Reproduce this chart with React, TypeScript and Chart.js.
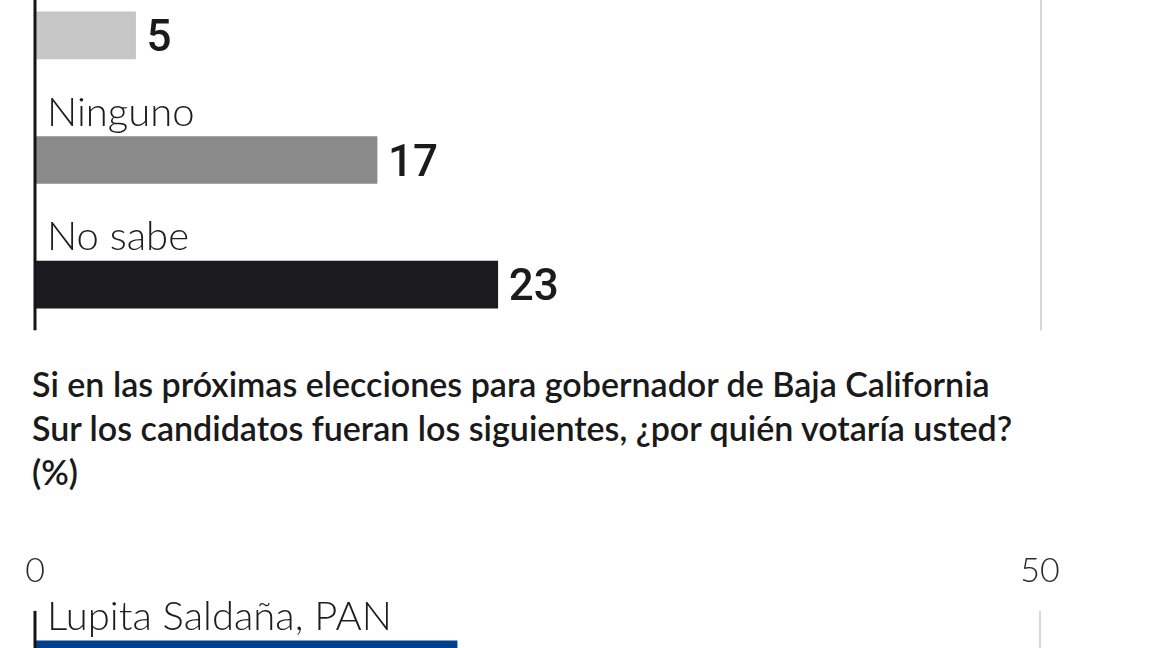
import React, { useEffect, useRef } from 'react';
import { Chart, registerables } from 'chart.js';

Chart.register(...registerables);

// primera gráfica (cortada arriba; la etiqueta de la primera barra no se ve)
const topCategories = ['', 'Ninguno', 'No sabe'];
const topValues = [5, 17, 23];
const topColors = ['#c6c6c6', '#8a8a8a', '#1b1a1f'];

// segunda gráfica (cortada abajo)
const bottomCategories = ['Lupita Saldaña, PAN'];
const bottomValues = [21];
const bottomColors = ['#00408f'];

const scaleMin = 0;
const scaleMax = 50;

const questionLines = [
  'Si en las próximas elecciones para gobernador de Baja California',
  'Sur los candidatos fueran los siguientes, ¿por quién votaría usted?',
  '(%)',
];

const LABEL_FONT = '300 40px Lato';
const VALUE_SIZE = 44;
const VALUE_FONT = `500 ${VALUE_SIZE}px Roboto, sans-serif`;

// dibuja eje, línea de 50, etiquetas y valores
const barDecor = {
  id: 'barDecor',
  beforeDatasetsDraw(chart: any) {
    const { ctx } = chart;
    const meta = chart.getDatasetMeta(0);
    const x = chart.scales.x;
    const first = meta.data[0];
    const last = meta.data[meta.data.length - 1];
    const top = first.y - first.height / 2 - 30;
    const bottom = last.y + last.height / 2 + 22;
    ctx.save();
    ctx.strokeStyle = '#d6d6d6';
    ctx.lineWidth = 2;
    ctx.beginPath();
    ctx.moveTo(x.getPixelForValue(scaleMax), top);
    ctx.lineTo(x.getPixelForValue(scaleMax), bottom);
    ctx.stroke();
    ctx.restore();
  },
  afterDatasetsDraw(chart: any) {
    const { ctx } = chart;
    const meta = chart.getDatasetMeta(0);
    const x = chart.scales.x;
    const x0 = x.getPixelForValue(scaleMin);
    const first = meta.data[0];
    const last = meta.data[meta.data.length - 1];
    const top = first.y - first.height / 2 - 30;
    const bottom = last.y + last.height / 2 + 22;
    ctx.save();
    ctx.strokeStyle = '#151515';
    ctx.lineWidth = 3;
    ctx.beginPath();
    ctx.moveTo(x0, top);
    ctx.lineTo(x0, bottom);
    ctx.stroke();

    const labels = chart.data.labels as string[];
    const values = chart.data.datasets[0].data as number[];
    meta.data.forEach((bar: any, i: number) => {
      const barTop = bar.y - bar.height / 2;
      ctx.fillStyle = '#1d1d1d';
      ctx.font = LABEL_FONT;
      ctx.textAlign = 'left';
      ctx.textBaseline = 'alphabetic';
      if (labels[i]) ctx.fillText(labels[i], x0 + 12, barTop - 11);

      ctx.font = VALUE_FONT;
      ctx.fillStyle = '#1b1b1b';
      ctx.fillText(String(values[i]), bar.x + 11, bar.y + VALUE_SIZE * 0.355);
    });
    ctx.restore();
  },
};

const makeOptions = (showTicks: boolean, padding: any) => ({
  indexAxis: 'y' as const,
  responsive: true,
  maintainAspectRatio: false,
  animation: false as const,
  layout: { padding },
  plugins: {
    legend: { display: false },
    tooltip: { enabled: false },
  },
  scales: {
    x: {
      display: showTicks,
      position: 'top' as const,
      min: scaleMin,
      max: scaleMax,
      grid: { display: false, drawTicks: false },
      border: { display: false },
      ticks: {
        stepSize: scaleMax - scaleMin,
        padding: 22,
        color: '#2a2a2a',
        font: { family: 'Lato', weight: '300', size: 34 },
      },
    },
    y: {
      display: false,
    },
  },
});

const BarBlock: React.FC<{
  labels: string[];
  values: number[];
  colors: string[];
  showTicks: boolean;
  padding: any;
}> = ({ labels, values, colors, showTicks, padding }) => {
  const chartRef = useRef<HTMLCanvasElement>(null);
  const chartInstance = useRef<Chart | null>(null);

  useEffect(() => {
    if (!chartRef.current) return;
    if (chartInstance.current) chartInstance.current.destroy();
    chartInstance.current = new Chart(chartRef.current, {
      type: 'bar',
      data: {
        labels,
        datasets: [
          {
            data: values,
            backgroundColor: colors,
            barThickness: 47,
            borderWidth: 0,
          },
        ],
      },
      options: makeOptions(showTicks, padding) as any,
      plugins: [barDecor],
    });
    return () => {
      if (chartInstance.current) {
        chartInstance.current.destroy();
        chartInstance.current = null;
      }
    };
  }, [labels, values, colors, showTicks, padding]);

  return <canvas ref={chartRef}></canvas>;
};

const topPadding = { top: 33, left: 35, right: 111, bottom: 0 };
const bottomPadding = { top: 0, left: 35, right: 112, bottom: 0 };

export default function App() {
  return (
    <div
      style={{
        position: 'fixed',
        left: 0,
        top: 0,
        width: 1152,
        height: 648,
        overflow: 'hidden',
        background: '#ffffff',
      }}
    >
      <div style={{ position: 'absolute', left: 0, top: -60, width: 1152, height: 407 }}>
        <BarBlock
          labels={topCategories}
          values={topValues}
          colors={topColors}
          showTicks={false}
          padding={topPadding}
        />
      </div>

      <div
        style={{
          position: 'absolute',
          left: 32,
          top: 362,
          fontFamily: 'Lato, sans-serif',
          fontWeight: 600,
          fontSize: 34,
          lineHeight: '44px',
          letterSpacing: '0px',
          color: '#1a1a1a',
          whiteSpace: 'nowrap',
        }}
      >
        {questionLines.map((line) => (
          <div key={line}>{line}</div>
        ))}
      </div>

      <div style={{ position: 'absolute', left: 0, top: 529, width: 1152, height: 186 }}>
        <BarBlock
          labels={bottomCategories}
          values={bottomValues}
          colors={bottomColors}
          showTicks={true}
          padding={bottomPadding}
        />
      </div>
    </div>
  );
}
